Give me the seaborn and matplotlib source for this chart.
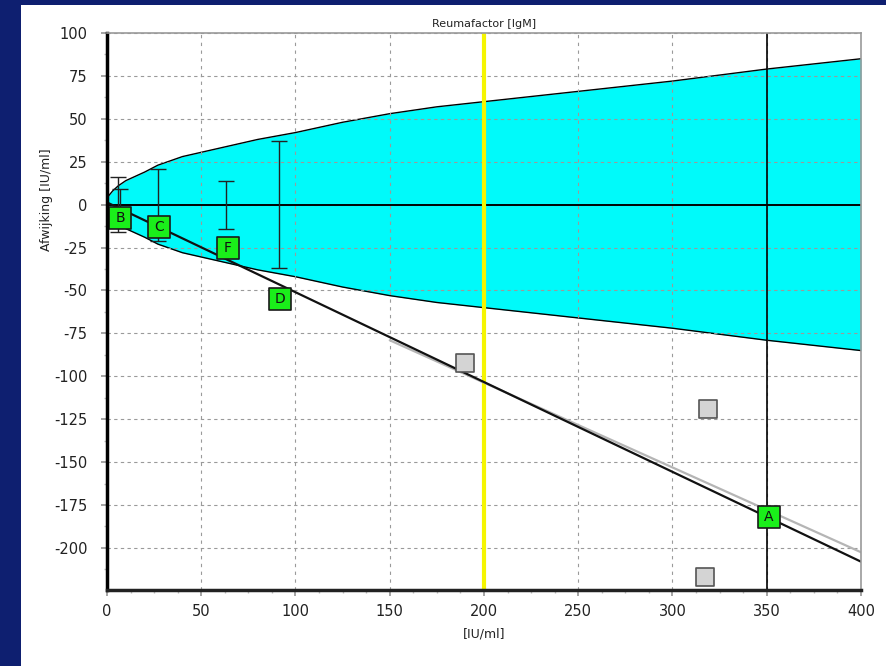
import numpy as np
import pandas as pd
import matplotlib
matplotlib.use("Agg")
import matplotlib.pyplot as plt
from matplotlib.patches import Rectangle
from matplotlib.ticker import MultipleLocator
import seaborn as sns

# ---- data ----
band_x = [0, 3, 6, 10, 20, 27, 40, 60, 80, 100, 125, 150, 175, 200, 250, 300, 350, 400]
band_half = [4, 8, 11, 14, 19, 23, 28, 33, 38, 42, 48, 53, 57, 60, 66, 72, 79, 85]

black_line_x = [0, 400]
black_line_y = [1.3, -208]
gray_line_x = [150, 400]
gray_line_y = [-79, -202.5]

letters = ["B", "C", "F", "D", "A"]
green_x = [7, 27.5, 64, 92, 351]
green_y = [-7.5, -13, -25, -55, -182]

gray_x = [190, 319, 317]
gray_y = [-92, -119, -217]

err_x = [6, 7, 27, 63, 91]
err_half = [16, 9, 21, 14, 37]

xticks = [0, 50, 100, 150, 200, 250, 300, 350, 400]
yticks = [100, 75, 50, 25, 0, -25, -50, -75, -100, -125, -150, -175, -200]

sns.set_theme(style="white")
plt.rcParams['font.family'] = ['DejaVu Sans']
plt.rcParams['axes.unicode_minus'] = False

fig = plt.figure(figsize=(8.87, 6.66), dpi=100)
fig.patch.set_facecolor('#0e1f70')
fig.patches.append(Rectangle((21 / 887, 0), 1 - 21 / 887, 1 - 5 / 666,
                             transform=fig.transFigure, facecolor='white',
                             edgecolor='none', zorder=-10))
ax = fig.add_axes([107 / 887, 1 - 590 / 666, 754 / 887, 557 / 666])
ax.set_facecolor('white')

bx = np.array(band_x, dtype=float)
bh = np.array(band_half, dtype=float)
ax.fill_between(bx, -bh, bh, color='#00fafa', zorder=1, linewidth=0)
ax.plot(bx, bh, color='black', lw=1.0, zorder=2)
ax.plot(bx, -bh, color='black', lw=1.0, zorder=2)

# grid
for xv in xticks[1:-1]:
    ax.axvline(xv, color='#9a9a9a', lw=0.8, ls=(0, (3, 4)), zorder=3)
for yv in yticks:
    ax.axhline(yv, color='#9a9a9a', lw=0.8, ls=(0, (3, 3)), zorder=3)

ax.axhline(0, color='black', lw=1.4, zorder=4)
ax.axvline(200, color='#f5f500', lw=3, zorder=4)
ax.axvline(350, color='black', lw=1.2, zorder=4)

lines = pd.DataFrame({'x': gray_line_x + black_line_x,
                      'y': gray_line_y + black_line_y,
                      'fit': ['gray'] * 2 + ['black'] * 2})
sns.lineplot(data=lines, x='x', y='y', hue='fit',
             palette={'gray': '#b5b5b5', 'black': '#111111'},
             linewidth=1.6, legend=False, ax=ax, zorder=5)

for ex, eh in zip(err_x, err_half):
    ax.errorbar([ex], [0], yerr=[eh], fmt='none', ecolor='#222222',
                elinewidth=1.0, capsize=6, capthick=1.0, zorder=6)

gdf = pd.DataFrame({'x': gray_x, 'y': gray_y})
sns.scatterplot(data=gdf, x='x', y='y', marker='s', s=150, color='#d4d4d4',
                edgecolor='#555555', linewidth=1.2, ax=ax, zorder=7)

mdf = pd.DataFrame({'x': green_x, 'y': green_y, 'lab': letters})
sns.scatterplot(data=mdf, x='x', y='y', marker='s', s=230, color='#1aef1a',
                edgecolor='#1a1a1a', linewidth=1.2, ax=ax, zorder=8)
for _, r in mdf.iterrows():
    ax.text(r['x'], r['y'], r['lab'], ha='center', va='center',
            fontsize=10, color='#111111', zorder=9)

ax.set_xlim(0, 400)
ax.set_ylim(-224.5, 100)
ax.set_xticks(xticks)
ax.set_yticks(yticks)
ax.xaxis.set_minor_locator(MultipleLocator(12.5))
ax.yaxis.set_minor_locator(MultipleLocator(12.5))
ax.tick_params(axis='both', which='major', direction='out', length=4,
               color='#999999', labelsize=10.5, labelcolor='#222222')
ax.tick_params(axis='y', which='major', pad=10)
ax.tick_params(axis='x', which='major', pad=6)
ax.tick_params(axis='both', which='minor', direction='out', length=2,
               color='#bbbbbb')
ax.tick_params(axis='x', which='both', bottom=True)
ax.tick_params(axis='y', which='both', left=True)

for s in ['top', 'right']:
    ax.spines[s].set_color('#999999')
    ax.spines[s].set_linewidth(1.2)
ax.spines['left'].set_color('black')
ax.spines['left'].set_linewidth(2.5)
ax.spines['bottom'].set_color('#222222')
ax.spines['bottom'].set_linewidth(2.5)
for s in ax.spines.values():
    s.set_zorder(10)

ax.set_xlabel('[IU/ml]', fontsize=9, color='#222222', labelpad=6)
ax.set_ylabel('Afwijking [IU/ml]', fontsize=9, color='#222222')
ax.yaxis.set_label_coords(-0.072, 0.70)
ax.set_title('Reumafactor [IgM]', fontsize=8, color='#222222', pad=4)

fig.savefig('out.png', dpi=100, facecolor=fig.get_facecolor())
